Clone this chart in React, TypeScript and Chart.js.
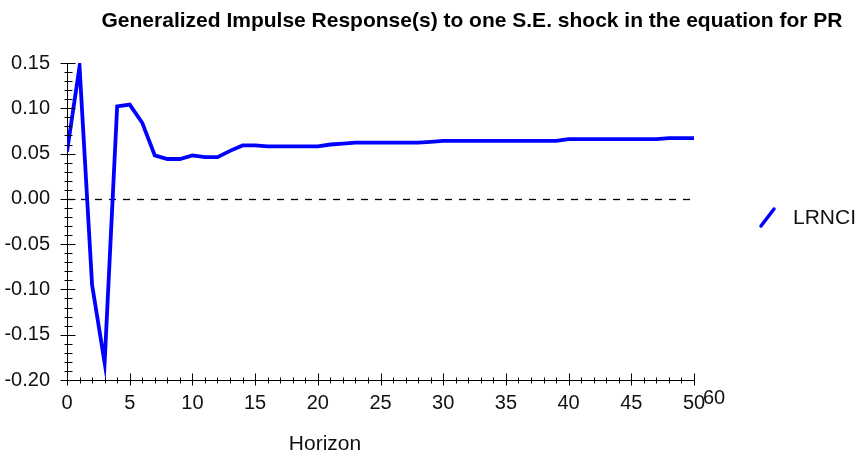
import { useEffect, useRef } from "react";
import { Chart, registerables } from "chart.js";

Chart.register(...registerables);

const chartTitle = "Generalized Impulse Response(s) to one S.E. shock in the equation for PR";
const xAxisTitle = "Horizon";
const seriesName = "LRNCI";
const strayLabel = "60";

const horizons = [
  0, 1, 2, 3, 4, 5, 6, 7, 8, 9, 10, 11, 12, 13, 14, 15, 16, 17, 18, 19, 20,
  21, 22, 23, 24, 25, 26, 27, 28, 29, 30, 31, 32, 33, 34, 35, 36, 37, 38, 39, 40,
  41, 42, 43, 44, 45, 46, 47, 48, 49, 50,
];

const responses = [
  0.052, 0.146, -0.095, -0.181, 0.102, 0.104, 0.084, 0.048, 0.044, 0.044, 0.048,
  0.046, 0.046, 0.053, 0.059, 0.059, 0.058, 0.058, 0.058, 0.058, 0.058,
  0.06, 0.061, 0.062, 0.062, 0.062, 0.062, 0.062, 0.062, 0.063, 0.064,
  0.064, 0.064, 0.064, 0.064, 0.064, 0.064, 0.064, 0.064, 0.064, 0.066,
  0.066, 0.066, 0.066, 0.066, 0.066, 0.066, 0.066, 0.067, 0.067, 0.067,
];

const X_MIN = 0;
const X_MAX = 50;
const Y_MIN = -0.2;
const Y_MAX = 0.15;

const FONT = "'Liberation Sans', Arial, sans-serif";

const decorPlugin = {
  id: "decor",
  beforeDatasetsDraw(chart: any) {
    const { ctx, scales } = chart;
    const xs = scales.x;
    const ys = scales.y;
    ctx.save();
    ctx.strokeStyle = "#000";
    ctx.lineWidth = 1.3;
    ctx.setLineDash([7, 7]);
    ctx.beginPath();
    const y0 = Math.round(ys.getPixelForValue(0)) + 0.5;
    ctx.moveTo(xs.getPixelForValue(X_MIN), y0);
    ctx.lineTo(xs.getPixelForValue(X_MAX), y0);
    ctx.stroke();
    ctx.restore();
  },
  afterDraw(chart: any) {
    const { ctx, scales, chartArea } = chart;
    const xs = scales.x;
    const ys = scales.y;
    ctx.save();
    ctx.strokeStyle = "#000";
    ctx.lineWidth = 1;
    ctx.setLineDash([]);
    const axisY = Math.round(chartArea.bottom) + 0.5;
    xs.ticks.forEach((t: any) => {
      const v = t.value;
      const px = Math.round(xs.getPixelForValue(v)) + 0.5;
      const major = Math.round(v) % 5 === 0;
      ctx.beginPath();
      if (major) {
        ctx.moveTo(px, axisY - 7);
        ctx.lineTo(px, axisY + 5);
      } else {
        ctx.moveTo(px, axisY - 3);
        ctx.lineTo(px, axisY + 3);
      }
      ctx.stroke();
    });
    const axisX = Math.round(chartArea.left) + 0.5;
    ys.ticks.forEach((t: any) => {
      const v = t.value;
      const py = Math.round(ys.getPixelForValue(v)) + 0.5;
      const major = Math.round(v * 100) % 5 === 0;
      ctx.beginPath();
      if (major) {
        ctx.moveTo(axisX - 7, py);
        ctx.lineTo(axisX + 8, py);
      } else {
        ctx.moveTo(axisX - 3, py);
        ctx.lineTo(axisX + 5, py);
      }
      ctx.stroke();
    });

    ctx.fillStyle = "#000";
    ctx.font = "bold 21px 'Liberation Sans Narrow', 'Liberation Sans', Arial, sans-serif";
    ctx.textAlign = "center";
    ctx.textBaseline = "alphabetic";
    ctx.fillText(chartTitle, 472, 27);

    ctx.fillStyle = "#111";
    ctx.font = "21px " + FONT;
    ctx.textAlign = "center";
    ctx.textBaseline = "middle";
    ctx.fillText(xAxisTitle, 325, 444);

    ctx.font = "20px " + FONT;
    ctx.fillText(strayLabel, 714, 398);

    ctx.strokeStyle = "#0000ff";
    ctx.lineWidth = 3.5;
    ctx.lineCap = "round";
    ctx.beginPath();
    ctx.moveTo(761, 226);
    ctx.lineTo(774, 209);
    ctx.stroke();
    ctx.font = "21px " + FONT;
    ctx.textAlign = "left";
    ctx.fillStyle = "#111";
    ctx.fillText(seriesName, 793, 218);
    ctx.restore();
  },
};

export default function App() {
  const canvasRef = useRef<HTMLCanvasElement | null>(null);

  useEffect(() => {
    document.body.style.margin = "0";
    const canvas = canvasRef.current;
    if (!canvas) return;
    const points = horizons.map((h, i) => ({ x: h, y: responses[i] }));
    const chart = new Chart(canvas, {
      type: "line",
      data: {
        datasets: [
          {
            label: seriesName,
            data: points,
            borderColor: "#0000ff",
            backgroundColor: "#0000ff",
            borderWidth: 3.8,
            pointRadius: 0,
            tension: 0,
            fill: false,
          },
        ],
      },
      options: {
        responsive: false,
        animation: false,
        layout: { padding: { top: 63, right: 168, left: 0, bottom: 0 } },
        plugins: {
          legend: { display: false },
          title: { display: false },
          tooltip: { enabled: false },
        },
        scales: {
          x: {
            type: "linear",
            min: X_MIN,
            max: X_MAX,
            grid: { display: false },
            border: { display: true, color: "#000", width: 1 },
            afterFit: (scale: any) => {
              scale.height = 81;
            },
            ticks: {
              stepSize: 1,
              autoSkip: false,
              maxRotation: 0,
              padding: 3,
              color: "#111",
              font: { family: FONT, size: 20 },
              callback: (v: any) => (Math.round(Number(v)) % 5 === 0 ? String(Math.round(Number(v))) : ""),
            },
          },
          y: {
            min: Y_MIN,
            max: Y_MAX,
            grid: { display: false },
            border: { display: true, color: "#000", width: 1 },
            afterFit: (scale: any) => {
              scale.width = 67;
            },
            ticks: {
              stepSize: 0.01,
              autoSkip: false,
              padding: 9,
              color: "#111",
              font: { family: FONT, size: 20 },
              callback: (v: any) => {
                const n = Math.round(Number(v) * 100);
                return n % 5 === 0 ? (n / 100).toFixed(2) : "";
              },
            },
          },
        },
      },
      plugins: [decorPlugin],
    });
    return () => chart.destroy();
  }, []);

  return (
    <div style={{ width: 862, height: 461 }}>
      <canvas ref={canvasRef} width={862} height={461} style={{ display: "block" }} />
    </div>
  );
}
